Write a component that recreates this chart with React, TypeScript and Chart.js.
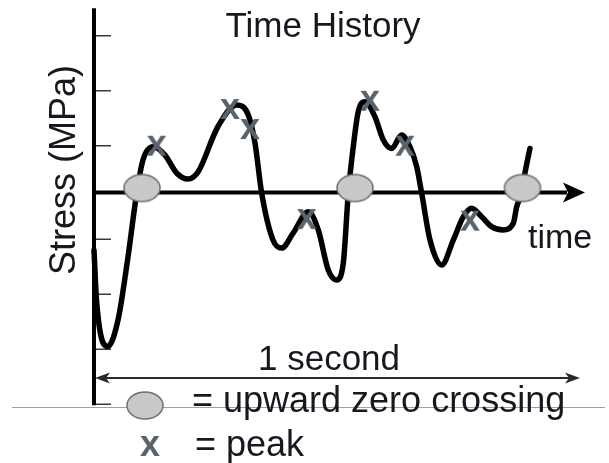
import React, { useEffect, useRef } from "react";
import { Chart, registerables } from "chart.js";

Chart.register(...registerables);

// Stress history over one second of loading: time in s, stress in MPa
const TIME = [
  0.0, 0.0056, 0.0282, 0.0494, 0.07, 0.0879, 0.1008, 0.1214, 0.1461, 0.17,
  0.1934, 0.214, 0.2551, 0.2936, 0.3175, 0.3313, 0.345, 0.3683, 0.3862, 0.41,
  0.441, 0.4615, 0.482, 0.4994, 0.513, 0.5233, 0.5335, 0.5438, 0.5576, 0.578,
  0.5953, 0.6126, 0.633, 0.65, 0.664, 0.6743, 0.6914, 0.7154, 0.7393, 0.76,
  0.777, 0.7977, 0.818, 0.842, 0.8628, 0.8698, 0.88, 0.8868, 0.897,
];
const STRESS = [
  -1.05, -2.01, -2.8, -2.32, -1.17, -0.01, 0.59, 0.83, 0.68, 0.355,
  0.245, 0.373, 1.2, 1.59, 1.41, 0.9, -0.01, -0.864, -1.01, -0.736,
  -0.349, -0.68, -1.41, -1.59, -1.28, -0.01, 0.833, 1.47, 1.65, 1.38,
  0.955, 0.8, 1.045, 0.833, 0.47, -0.015, -0.864, -1.318, -0.864, -0.44,
  -0.287, -0.44, -0.62, -0.68, -0.56, -0.258, -0.015, 0.355, 0.8,
];

// Counted peaks
const PEAK_TIME = [0.129, 0.2798, 0.321, 0.4377, 0.5679, 0.64, 0.7737];
const PEAK_STRESS = [0.833, 1.5, 1.136, -0.5, 1.65, 0.833, -0.53];

// Upward zero crossings
const CROSSING_TIME = [0.0988, 0.537, 0.8817];
const CROSSING_STRESS = [0, 0, 0];

// Tick marks on the stress axis
const STRESS_TICKS = [2.85, 1.85, 0.85, -0.85, -1.85, -2.85, -3.85];

const TITLE = "Time History";
const Y_LABEL = "Stress (MPa)";
const X_LABEL = "time";
const SPAN_LABEL = "1 second";
const LEGEND_CROSSING = "= upward zero crossing";
const LEGEND_PEAK = "= peak";

const FONT = '"Liberation Sans", Arial, sans-serif';
const TEXT_COLOR = "#17171f";
const MARK_COLOR = "#59636e";
const ELLIPSE_FILL = "#c8c8c8";
const ELLIPSE_STROKE = "#707070";

function drawEllipse(ctx: CanvasRenderingContext2D, cx: number, cy: number) {
  ctx.save();
  ctx.beginPath();
  ctx.ellipse(cx, cy, 18, 13.5, 0, 0, Math.PI * 2);
  ctx.fillStyle = ELLIPSE_FILL;
  ctx.fill();
  ctx.lineWidth = 1.5;
  ctx.strokeStyle = ELLIPSE_STROKE;
  ctx.stroke();
  ctx.restore();
}

function drawCross(ctx: CanvasRenderingContext2D, cx: number, cy: number) {
  ctx.save();
  ctx.font = `bold 36px ${FONT}`;
  ctx.fillStyle = MARK_COLOR;
  ctx.textAlign = "center";
  ctx.textBaseline = "alphabetic";
  ctx.fillText("x", cx, cy + 9.3);
  ctx.restore();
}

function ellipseImage(): HTMLCanvasElement {
  const c = document.createElement("canvas");
  c.width = 40;
  c.height = 40;
  drawEllipse(c.getContext("2d")!, 20, 15.5);
  return c;
}

function crossImage(): HTMLCanvasElement {
  const c = document.createElement("canvas");
  c.width = 30;
  c.height = 30;
  drawCross(c.getContext("2d")!, 15, 15);
  return c;
}

function arrowHead(
  ctx: CanvasRenderingContext2D,
  tipX: number,
  y: number,
  dir: number,
  len: number,
  half: number,
  notch: number
) {
  ctx.beginPath();
  ctx.moveTo(tipX, y);
  ctx.lineTo(tipX - dir * len, y - half);
  ctx.lineTo(tipX - dir * (len - notch), y);
  ctx.lineTo(tipX - dir * len, y + half);
  ctx.closePath();
  ctx.fill();
}

// Axes, tick marks, span arrow, labels and legend
const framePlugin = {
  id: "frame",
  beforeDatasetsDraw(chart: any) {
    const ctx: CanvasRenderingContext2D = chart.ctx;
    const xs = chart.scales.x;
    const ys = chart.scales.y;
    const x0 = xs.getPixelForValue(0);
    const y0 = ys.getPixelForValue(0);

    ctx.save();

    // thin rule under the plot
    const ry = Math.round(ys.getPixelForValue(-3.9)) + 0.5;
    ctx.strokeStyle = "#a0a0a0";
    ctx.lineWidth = 1;
    ctx.beginPath();
    ctx.moveTo(12, ry);
    ctx.lineTo(chart.width - 4, ry);
    ctx.stroke();

    // stress axis
    ctx.strokeStyle = "#000";
    ctx.lineWidth = 4;
    ctx.beginPath();
    ctx.moveTo(x0, ys.getPixelForValue(3.35));
    ctx.lineTo(x0, ys.getPixelForValue(-3.87));
    ctx.stroke();

    // tick marks
    ctx.strokeStyle = "#3a3a3a";
    ctx.lineWidth = 1.5;
    for (const v of STRESS_TICKS) {
      const y = ys.getPixelForValue(v);
      ctx.beginPath();
      ctx.moveTo(x0 + 2, y);
      ctx.lineTo(x0 + 17, y);
      ctx.stroke();
    }

    // time axis with arrow
    const tip = xs.getPixelForValue(1.0103);
    ctx.strokeStyle = "#000";
    ctx.fillStyle = "#000";
    ctx.lineWidth = 4;
    ctx.beginPath();
    ctx.moveTo(x0, y0);
    ctx.lineTo(tip - 18, y0);
    ctx.stroke();
    arrowHead(ctx, tip, y0, 1, 22, 10, 5);

    // one-second span arrow
    const sy = ys.getPixelForValue(-3.373);
    const sx0 = xs.getPixelForValue(0) + 1;
    const sx1 = xs.getPixelForValue(1);
    ctx.strokeStyle = "#2a2a2a";
    ctx.fillStyle = "#2a2a2a";
    ctx.lineWidth = 1.8;
    ctx.beginPath();
    ctx.moveTo(sx0 + 6, sy);
    ctx.lineTo(sx1 - 6, sy);
    ctx.stroke();
    arrowHead(ctx, sx0, sy, -1, 15, 5.5, 4);
    arrowHead(ctx, sx1, sy, 1, 15, 5.5, 4);

    // labels
    ctx.fillStyle = TEXT_COLOR;
    ctx.textBaseline = "alphabetic";

    ctx.font = `35px ${FONT}`;
    ctx.textAlign = "center";
    ctx.fillText(TITLE, 323, 37);

    ctx.font = `35px ${FONT}`;
    ctx.fillText(SPAN_LABEL, 329, 370);

    ctx.save();
    ctx.font = `36px ${FONT}`;
    ctx.translate(75, 170);
    ctx.rotate(-Math.PI / 2);
    ctx.textAlign = "center";
    ctx.fillText(Y_LABEL, 0, 0);
    ctx.restore();

    ctx.textAlign = "left";
    ctx.font = `34px ${FONT}`;
    ctx.fillText(X_LABEL, 528, 248);

    ctx.font = `36px ${FONT}`;
    ctx.fillText(LEGEND_CROSSING, 192, 412);
    ctx.fillText(LEGEND_PEAK, 195, 456);

    // legend symbols
    drawEllipse(ctx, 145, 405.5);
    drawCross(ctx, 150, 447);

    ctx.restore();
  },
};

export default function App() {
  const ref = useRef<HTMLCanvasElement | null>(null);

  useEffect(() => {
    if (!ref.current) return;
    const curve = TIME.map((t, i) => ({ x: t, y: STRESS[i] }));
    const peaks = PEAK_TIME.map((t, i) => ({ x: t, y: PEAK_STRESS[i] }));
    const crossings = CROSSING_TIME.map((t, i) => ({ x: t, y: CROSSING_STRESS[i] }));

    const chart = new Chart(ref.current, {
      type: "scatter",
      data: {
        datasets: [
          {
            label: "peak",
            data: peaks,
            pointStyle: crossImage() as any,
            pointRadius: 10,
            order: 0,
          },
          {
            label: "upward zero crossing",
            data: crossings,
            pointStyle: ellipseImage() as any,
            pointRadius: 10,
            order: 1,
          },
          {
            label: "stress",
            data: curve,
            showLine: true,
            borderColor: "#000",
            borderWidth: 5.5,
            pointRadius: 0,
            cubicInterpolationMode: "monotone",
            borderCapStyle: "round",
            borderJoinStyle: "round",
            order: 2,
          } as any,
        ],
      },
      options: {
        animation: false,
        responsive: false,
        devicePixelRatio: 1,
        layout: { padding: 0, autoPadding: false },
        events: [],
        scales: {
          x: { type: "linear", min: -0.1934, max: 1.0597, display: false },
          y: { type: "linear", min: -4.918, max: 3.5, display: false },
        },
        plugins: {
          legend: { display: false },
          tooltip: { enabled: false },
          title: { display: false },
        },
      },
      plugins: [framePlugin],
    });
    return () => chart.destroy();
  }, []);

  return (
    <div style={{ position: "absolute", left: 0, top: 0, width: 609, height: 463, background: "#fff" }}>
      <canvas ref={ref} width={609} height={463} />
    </div>
  );
}
